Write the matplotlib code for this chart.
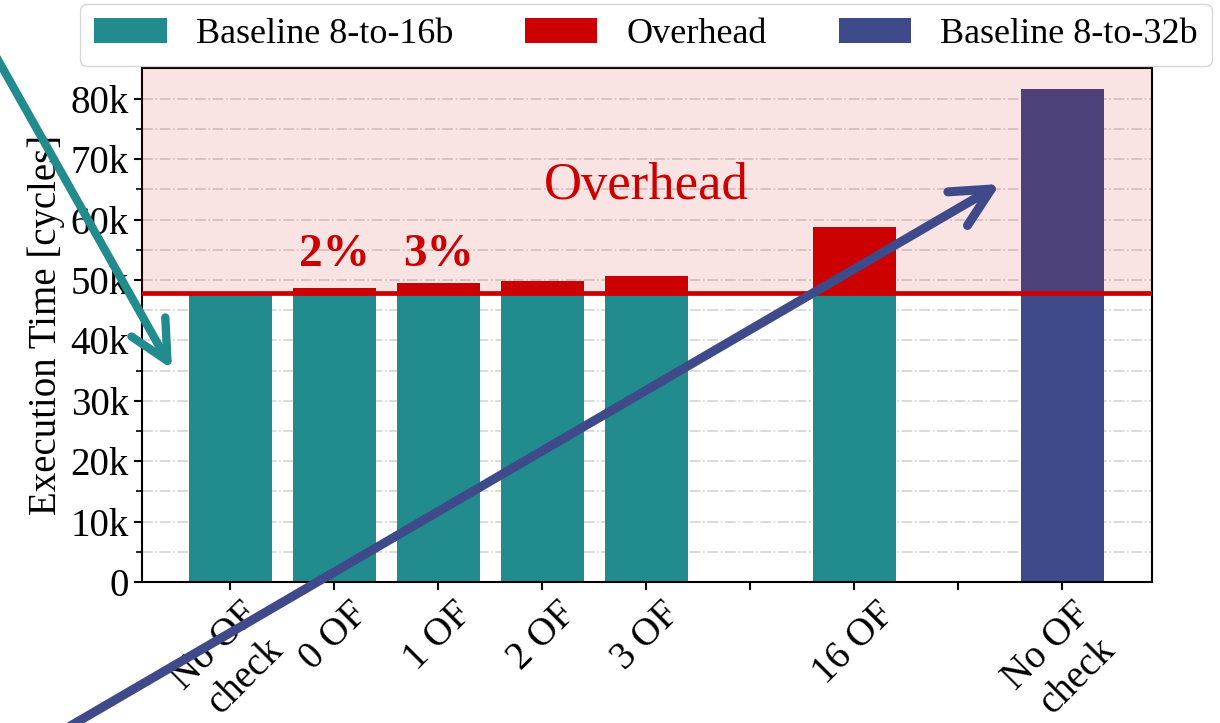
import numpy as np
import matplotlib
matplotlib.use('Agg')
import matplotlib.pyplot as plt
from matplotlib.patches import FancyArrowPatch

plt.rcParams['font.family'] = ['Liberation Serif', 'DejaVu Serif']

# Dados
labels = ['No OF\ncheck', '0 OF', '1 OF', '2 OF', '3 OF', '', '16 OF', '', 'No OF\ncheck']
pos16 = [0, 1, 2, 3, 4, 6]
base16 = [47900, 47900, 47900, 47900, 47900, 47900]
total16 = [47900, 48670, 49450, 49900, 50700, 58750]
pos32 = [8]
base32 = [81600]
baseline = 47900
pct_pos = [1, 2]
pct_txt = ['2%', '3%']
yticks = [0, 10000, 20000, 30000, 40000, 50000, 60000, 70000, 80000]
ytick_labels = ['0', '10k', '20k', '30k', '40k', '50k', '60k', '70k', '80k']

c16 = '#228b8d'
c32 = '#3e4a89'
cred = '#cc0000'

fig = plt.figure(figsize=(12.2, 7.23), dpi=100)
ax = fig.add_axes([0.1164, 0.195, 0.944 - 0.1164, 0.906 - 0.195])

overhead = np.array(total16) - np.array(base16)
ax.bar(pos16, base16, width=0.8, color=c16, label='Baseline 8-to-16b', zorder=2)
ax.bar(pos16, overhead, bottom=base16, width=0.8, color=cred, label='Overhead', zorder=2)
ax.bar(pos32, base32, width=0.8, color=c32, label='Baseline 8-to-32b', zorder=2)

ax.set_ylim(0, 85100)
ax.set_xlim(-0.85, 8.86)
ax.axhspan(baseline, 85100, color=cred, alpha=0.11, lw=0, zorder=3)
ax.axhline(baseline, color=cred, lw=3.4, zorder=4)

ax.set_yticks(yticks)
ax.set_yticklabels(ytick_labels)
ax.set_yticks(np.arange(5000, 85000, 10000), minor=True)
ax.set_xticks(range(len(labels)))
ax.set_xticklabels(labels, rotation=45, ha='center')
ax.tick_params(axis='both', which='major', labelsize=28, length=6, width=1.5, direction='out')
ax.tick_params(axis='y', which='minor', length=4, width=1.2)
ax.set_ylabel('Execution Time [cycles]', fontsize=28)
ax.grid(axis='y', which='both', linestyle='-.', color='#d4d4d4', lw=1.2, zorder=3.5)
for s in ax.spines.values():
    s.set_linewidth(1.5)

ax.text(4.0, 65500, 'Overhead', color=cred, fontsize=38, ha='center', va='center', zorder=5)
for p, t in zip(pct_pos, pct_txt):
    ax.text(p, 50600, t, color=cred, fontsize=34, fontweight='bold', ha='center', va='bottom', zorder=5)

fig.legend(loc='upper center', bbox_to_anchor=(0.5295, 1.0), ncol=3, fontsize=26,
           handlelength=2.0, handletextpad=0.8, columnspacing=2.0, fancybox=True,
           edgecolor='#cccccc', borderaxespad=0.1)

# Setas
W, H = 1220, 723
a1 = FancyArrowPatch((-20 / W, 1 - 28 / H), (172 / W, 1 - 369 / H), transform=fig.transFigure,
                     arrowstyle='->,head_length=2.8,head_width=1.4', mutation_scale=10,
                     lw=6, color=c16, shrinkA=0, shrinkB=0, capstyle='round', joinstyle='round')
a2 = FancyArrowPatch((60 / W, 1 - 732 / H), (1000 / W, 1 - 184 / H), transform=fig.transFigure,
                     arrowstyle='->,head_length=2.8,head_width=1.4', mutation_scale=10,
                     lw=6.5, color=c32, shrinkA=0, shrinkB=0, capstyle='round', joinstyle='round')
fig.add_artist(a1)
fig.add_artist(a2)

fig.savefig('out.png', dpi=100)
